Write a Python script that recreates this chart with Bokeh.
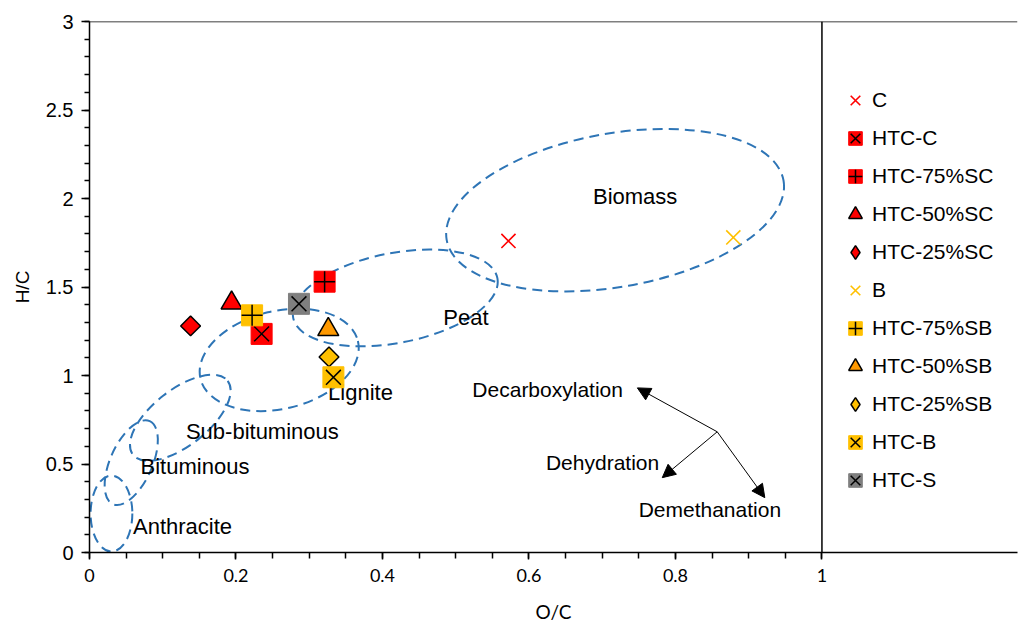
import math

from bokeh.plotting import figure
from bokeh.models import (Range1d, FixedTicker, Span, Arrow, NormalHead,
                          ColumnDataSource, Legend, LegendItem)
from bokeh.core.properties import value
from bokeh.embed import file_html
from bokeh.resources import INLINE

# ---------------------------------------------------------------- data
# Atomic O/C and H/C ratios of the feedstocks and hydrochars
samples = ["C", "HTC-C", "HTC-75%SC", "HTC-50%SC", "HTC-25%SC",
           "B", "HTC-75%SB", "HTC-50%SB", "HTC-25%SB", "HTC-B", "HTC-S"]
oc_ratio = [0.572, 0.235, 0.321, 0.194, 0.138,
            0.879, 0.222, 0.326, 0.327, 0.333, 0.286]
hc_ratio = [1.76, 1.235, 1.53, 1.41, 1.28,
            1.78, 1.34, 1.26, 1.105, 0.99, 1.405]

# Fuel-rank regions of the van Krevelen diagram (centre, extent, tilt)
regions = ["Anthracite", "Bituminous", "Sub-bituminous", "Lignite", "Peat", "Biomass"]
region_oc = [0.030, 0.057, 0.124, 0.259, 0.4175, 0.7176]
region_hc = [0.220, 0.5075, 0.761, 1.088, 1.438, 1.934]
region_w = [0.057, 0.124, 0.164, 0.221, 0.284, 0.467]
region_h = [0.429, 0.237, 0.316, 0.553, 0.508, 0.868]
region_tilt_deg = [0, 66, 38, 13.5, 11, 10]
region_label_oc = [0.127, 0.144, 0.236, 0.370, 0.514, 0.745]
region_label_hc = [0.147, 0.485, 0.682, 0.902, 1.325, 2.013]

# Reaction pathways
pathways = ["Decarboxylation", "Dehydration", "Demethanation"]
path_start_oc = [0.857, 0.857, 0.857]
path_start_hc = [0.682, 0.682, 0.682]
path_end_oc = [0.748, 0.782, 0.922]
path_end_hc = [0.930, 0.423, 0.310]
path_label_oc = [0.6255, 0.7005, 0.847]
path_label_hc = [0.919, 0.5075, 0.2425]

# Axis ticks
x_ticks = [0, 0.2, 0.4, 0.6, 0.8, 1.0]
x_tick_labels = ["0", "0.2", "0.4", "0.6", "0.8", "1"]
y_ticks = [0, 0.5, 1.0, 1.5, 2.0, 2.5, 3.0]
y_tick_labels = ["0", "0.5", "1", "1.5", "2", "2.5", "3"]
x_minor = [round(i * 0.05, 2) for i in range(21)]
y_minor = [round(i * 0.1, 1) for i in range(31)]

# ---------------------------------------------------------------- styles
RED = "#FF0000"
GOLD = "#FFC000"
ORANGE = "#FF9900"
GREY = "#7F7F7F"
BLUE = "#2E75B6"
FONT = "Liberation Sans"

p = figure(width=1018, height=625, output_backend="svg", toolbar_location=None,
           x_range=Range1d(0, 1.267), y_range=Range1d(0, 3),
           min_border_left=89, min_border_right=1, min_border_top=21,
           min_border_bottom=72, background_fill_color="white",
           border_fill_color="white")
p.outline_line_color = None
p.xgrid.visible = False
p.ygrid.visible = False

# axes
p.xaxis.ticker = FixedTicker(ticks=x_ticks, minor_ticks=x_minor)
p.yaxis.ticker = FixedTicker(ticks=y_ticks, minor_ticks=y_minor)
p.xaxis.major_label_overrides = {t: s for t, s in zip(x_ticks, x_tick_labels)}
p.yaxis.major_label_overrides = {t: s for t, s in zip(y_ticks, y_tick_labels)}
p.xaxis.axis_label = "O/C"
p.yaxis.axis_label = "H/C"
for ax in (p.xaxis, p.yaxis):
    ax.axis_line_color = "black"
    ax.axis_line_width = 1.5
    ax.major_tick_line_color = "black"
    ax.minor_tick_line_color = "black"
    ax.major_tick_line_width = 1.5
    ax.minor_tick_line_width = 1.5
    ax.major_tick_in = 0
    ax.minor_tick_in = 0
    ax.major_label_text_color = "black"
    ax.axis_label_text_color = "black"
    ax.axis_label_text_font_style = "normal"
p.xaxis.major_tick_out = 7
p.xaxis.minor_tick_out = 6
p.yaxis.major_tick_out = 8
p.yaxis.minor_tick_out = 5
p.xaxis.major_label_text_font = "Lato"
p.xaxis.major_label_text_font_size = "18px"
p.xaxis.major_label_standoff = 9
p.xaxis.axis_label_text_font = "Lato"
p.xaxis.axis_label_text_font_size = "19px"
p.xaxis.axis_label_standoff = 15
p.yaxis.major_label_text_font = FONT
p.yaxis.major_label_text_font_size = "20px"
p.yaxis.major_label_standoff = 8
p.yaxis.axis_label_text_font = FONT
p.yaxis.axis_label_text_font_size = "19px"
p.yaxis.axis_label_standoff = 10

# frame lines: top edge and the O/C = 1 boundary
p.add_layout(Span(location=3, dimension="width", line_color="black", line_width=1.5))
p.add_layout(Span(location=1, dimension="height", line_color="black", line_width=1.5))

# fuel-rank regions
reg_src = ColumnDataSource(dict(
    x=region_oc, y=region_hc, w=region_w, h=region_h,
    a=[math.radians(d) for d in region_tilt_deg]))
p.ellipse(x="x", y="y", width="w", height="h", angle="a", source=reg_src,
          fill_alpha=0, line_color=BLUE, line_width=2, line_dash="10 6")
lab_src = ColumnDataSource(dict(x=region_label_oc, y=region_label_hc, t=regions))
p.text(x="x", y="y", text="t", source=lab_src, text_align="center",
       text_baseline="middle", text_font=value(FONT), text_font_size="22px",
       text_color="black")

# reaction pathway arrows
for xs, ys, xe, ye in zip(path_start_oc, path_start_hc, path_end_oc, path_end_hc):
    p.add_layout(Arrow(x_start=xs, y_start=ys, x_end=xe, y_end=ye,
                       line_color="black", line_width=1,
                       end=NormalHead(size=13, fill_color="black",
                                      line_color="black", line_width=1)))
path_src = ColumnDataSource(dict(x=path_label_oc, y=path_label_hc, t=pathways))
p.text(x="x", y="y", text="t", source=path_src, text_align="center",
       text_baseline="middle", text_font=value(FONT), text_font_size="21px",
       text_color="black")

# ---------------------------------------------------------------- samples
def src(i):
    return ColumnDataSource(dict(x=[oc_ratio[i]], y=[hc_ratio[i]]))

SQ = 21
items = []

def cross_marker(i, color):
    r = p.scatter("x", "y", source=src(i), marker="x", size=20,
                  line_color=color, line_width=1.6)
    return [r]

def boxed(i, color, inner):
    s = src(i)
    r1 = p.scatter("x", "y", source=s, marker="square", size=SQ,
                   fill_color=color, line_color=color, line_width=1)
    r2 = p.scatter("x", "y", source=s, marker=inner, size=SQ,
                   line_color="black", line_width=1.5)
    return [r1, r2]

def outlined(i, color, marker, size):
    r = p.scatter("x", "y", source=src(i), marker=marker, size=size,
                  fill_color=color, line_color="black", line_width=1.5)
    return [r]

def rhombus(i, color):
    # legend keys are drawn unrotated, so the key comes from a diamond glyph
    # that sits underneath the 45-degree square and is hidden by it
    s = src(i)
    key = p.scatter("x", "y", source=s, marker="diamond", size=16,
                    fill_color=color, line_color="black", line_width=1.5)
    p.scatter("x", "y", source=s, marker="square", size=14,
              angle=math.pi / 4, fill_color=color, line_color="black",
              line_width=1.5)
    return [key]

for i, name in enumerate(samples):
    if i in (0, 5):
        rs = cross_marker(i, RED if i == 0 else GOLD)
    elif i in (1, 9, 10):
        rs = boxed(i, {1: RED, 9: GOLD, 10: GREY}[i], "x")
    elif i in (2, 6):
        rs = boxed(i, RED if i == 2 else GOLD, "cross")
    elif i in (3, 7):
        rs = outlined(i, RED if i == 3 else ORANGE, "triangle", 21)
    else:
        rs = rhombus(i, RED if i == 4 else GOLD)
    items.append(LegendItem(label=name, renderers=rs))

legend = Legend(items=items, location=(749, 55), orientation="vertical",
                glyph_width=34, glyph_height=34, spacing=4, padding=0, margin=0,
                label_standoff=0, label_text_font=FONT, label_text_font_size="21px",
                label_text_color="black", border_line_color=None,
                background_fill_alpha=0)
p.add_layout(legend)

open("out.html", "w").write(file_html(p, INLINE))
